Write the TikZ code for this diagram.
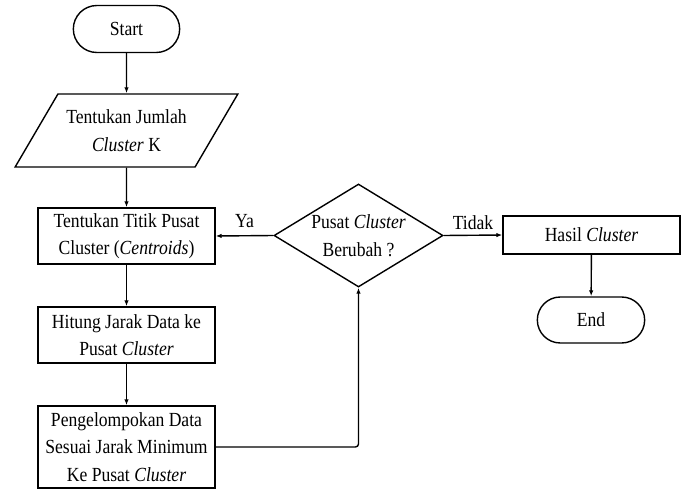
\documentclass[tikz,border=0pt]{standalone}
\usepackage{fontspec}
\setmainfont{Liberation Serif}[FakeStretch=0.88]
\usetikzlibrary{arrows.meta, positioning, shapes.geometric, shapes.misc}

\tikzset{
  terminal/.style={draw, rounded rectangle, minimum width=113pt, minimum height=47pt},
  inputbox/.style={draw, trapezium, trapezium left angle=50.6, trapezium right angle=129.4,
    trapezium stretches=true, minimum width=223pt, minimum height=73pt, align=center},
  process/.style={draw, rectangle, minimum width=177pt, align=center},
  decision/.style={draw, diamond, aspect=1.64, minimum width=169pt, minimum height=103pt,
    inner sep=0pt, align=center},
  flow/.style={-{Latex[length=6pt, width=4.5pt]}},
}

\begin{document}
\begin{tikzpicture}[x=1pt, y=-1pt, line width=1.4pt,
    font=\fontsize{20}{27.5}\selectfont]
  \useasboundingbox (0,0) rectangle (686,490);

  % left column
  \node[terminal] (start) at (126.5, 29) {Start};
  \node[inputbox] (jumlah) at (126.5, 130.5) {Tentukan Jumlah\\\textit{Cluster} K};
  \node[process, minimum height=56pt] (titik) at (126.5, 236) {Tentukan Titik Pusat\\Cluster (\textit{Centroids})};
  \node[process, minimum height=56pt] (jarak) at (126.5, 335) {Hitung Jarak Data ke\\Pusat \textit{Cluster}};
  \node[process, minimum height=82pt] (kelompok) at (126.5, 447) {Pengelompokan Data\\Sesuai Jarak Minimum\\Ke Pusat \textit{Cluster}};

  % decision and result
  \node[decision] (ubah) at (358.5, 235.5) {Pusat \textit{Cluster}\\Berubah ?};
  \node[process, minimum height=38pt] (hasil) at (591.5, 235) {Hasil \textit{Cluster}};
  \node[terminal, minimum width=114pt, minimum height=46pt] (end) at (591, 320) {End};

  \draw[flow] (start) -- (jumlah);
  \draw[flow] (jumlah) -- (titik);
  \draw[flow] (titik) -- (jarak);
  \draw[flow] (jarak) -- (kelompok);
  \draw[flow, rounded corners=3pt] (kelompok.east) -| (ubah.south);
  \draw[flow] (ubah.west) -- node[above=4pt] {Ya} (titik.east);
  \draw[flow] (ubah.east) -- node[above=2pt] {Tidak} (hasil.west);
  \draw[flow] (hasil) -- (end);
\end{tikzpicture}
\end{document}
